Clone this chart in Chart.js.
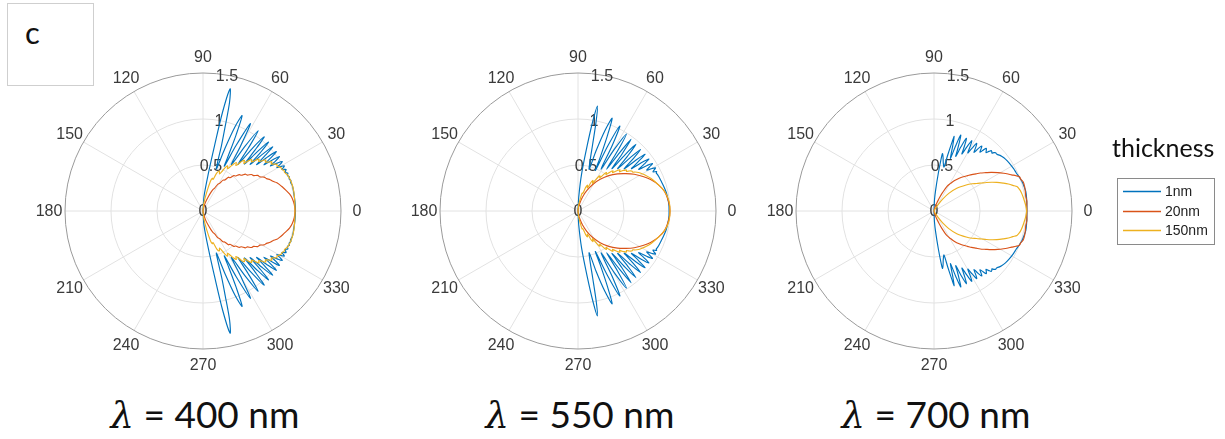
<!DOCTYPE html>
<html><head><meta charset="utf-8">
<script src="https://cdn.jsdelivr.net/npm/chart.js@4.4.1/dist/chart.umd.min.js"></script>
<style>
body{margin:0;width:1225px;height:439px;background:#fff;position:relative;overflow:hidden;font-family:'Liberation Sans',Arial,sans-serif}
.pc{position:absolute;top:31px;width:360px;height:360px}
#cbox{position:absolute;left:7px;top:3px;width:85px;height:81px;border:1px solid #cfcfcf}
#cbox span{position:absolute;left:17px;top:9px;font:31px Lato,sans-serif;color:#111}
.ttl{position:absolute;top:393px;width:320px;text-align:center;font:37px Lato,sans-serif;color:#111;line-height:42px;white-space:nowrap}
.ttl i{font-family:'DejaVu Serif',serif;font-style:italic}
#thk{position:absolute;left:1112px;top:132px;font:25px Lato,sans-serif;color:#111}
#leg{position:absolute;left:1117px;top:178px;width:96px;height:65px;border:1px solid #8a8a8a;background:#fff}
#leg svg{position:absolute;left:0;top:0}
.lt{position:absolute;left:47px;font:14px 'Liberation Sans',Arial,sans-serif;color:#222}
</style></head><body>
<div id="cbox"><span>c</span></div>
<div class="pc" style="left:23px"><canvas id="p400" width="360" height="360"></canvas></div>
<div class="pc" style="left:398px"><canvas id="p550" width="360" height="360"></canvas></div>
<div class="pc" style="left:754px"><canvas id="p700" width="360" height="360"></canvas></div>
<div class="ttl" style="left:45px"><i>λ</i> = 400 nm</div>
<div class="ttl" style="left:420px"><i>λ</i> = 550 nm</div>
<div class="ttl" style="left:776px"><i>λ</i> = 700 nm</div>
<div id="thk">thickness</div>
<div id="leg">
 <svg width="96" height="65">
  <line x1="5" y1="12.5" x2="43" y2="12.5" stroke="#0072BD" stroke-width="1.4"/>
  <line x1="5" y1="32.5" x2="43" y2="32.5" stroke="#D95319" stroke-width="1.4"/>
  <line x1="5" y1="51.5" x2="43" y2="51.5" stroke="#EDB120" stroke-width="1.4"/>
 </svg>
 <span class="lt" style="top:4px">1nm</span>
 <span class="lt" style="top:24px">20nm</span>
 <span class="lt" style="top:43px">150nm</span>
</div>
<script>
// ---- axis ticks ----
const thetaTicks = [0,30,60,90,120,150,180,210,240,270,300,330];
const rTicks = [0,0.5,1,1.5];
const rMax = 1.5;
const seriesNames = ['1nm','20nm','150nm'];
const seriesColors = ['#0072BD','#D95319','#EDB120'];

// ---- λ = 400 nm (upper half, angle in degrees, radius) ----
const th400_1 = [90,86,82,80,78.8,77.5,76.3,75.3,74.3,73.3,72.3,70.7,69.2,67.7,66.5,65.5,64.6,63.2,61.5,60.0,58.5,57.0,55.5,54.2,53.0,51.8,50.5,49.5,48.5,47.5,46.5,45.5,44.6,43.6,42.7,41.8,40.8,39.9,39.0,38.1,37.2,36.3,35.5,34.6,33.7,32.8,32.0,31.2,30.5,29.7,29.0,28.3,27.7,26.5,25.3,24.0,22.8,21.6,20.4,19.2,18.0,16.0,13.0,10.0,6.0,3.0,0];
const r400_1  = [0,0.16,0.40,0.72,1.10,1.36,1.22,0.95,0.75,0.55,0.48,0.72,0.98,1.12,0.90,0.68,0.54,0.80,1.08,0.82,0.59,0.84,1.06,0.84,0.63,0.86,1.045,0.87,0.68,0.88,1.035,0.89,0.72,0.90,1.03,0.91,0.77,0.92,1.025,0.94,0.83,0.94,1.02,0.96,0.88,0.96,1.015,0.98,0.93,0.98,1.012,0.99,0.97,1.01,0.985,1.01,0.995,1.01,1.0,1.012,1.003,1.01,1.008,1.005,1.005,1.005,1.005];
const th400_20 = [90,80,74,70,67,65,63,61,59,57,55,53,51,49,47,45,43,41,39,37,35,33,31,29,27,25,23,21,19,17,14,11,8,4,0];
const r400_20  = [0,0.03,0.10,0.16,0.22,0.26,0.28,0.335,0.35,0.40,0.41,0.46,0.465,0.51,0.52,0.56,0.57,0.61,0.62,0.66,0.67,0.71,0.72,0.76,0.775,0.805,0.825,0.86,0.88,0.90,0.93,0.96,0.98,0.995,1.0];
const th400_150 = [90,84,79,76,74,72.3,70,67.7,66,64.6,63,61.5,60,58.5,57,55.5,54.2,53,51.8,50.5,49.5,48.5,47.5,46.5,45.5,44.6,43.6,42.7,41.8,40.8,39.9,39,38.1,37.2,36.3,35.5,34.6,33.7,32.8,32,31.2,30.5,29,27.7,26.5,25.3,23,18,13,8,0];
const r400_150  = [0,0.08,0.20,0.33,0.37,0.36,0.44,0.47,0.44,0.47,0.53,0.56,0.53,0.56,0.61,0.64,0.61,0.64,0.69,0.71,0.68,0.71,0.75,0.77,0.75,0.77,0.81,0.83,0.81,0.83,0.86,0.88,0.86,0.88,0.90,0.92,0.90,0.92,0.94,0.95,0.94,0.95,0.97,0.97,0.985,0.98,1.0,1.01,1.01,1.005,1.0];

// ---- λ = 550 nm ----
const th550_1 = [90,87,84.5,82,80.6,79.5,78.6,77.6,76.5,75.0,73.3,71.5,69.8,68.7,67.6,66.8,65.4,63.8,62.4,61.2,59.5,57.8,56.6,55.6,54.5,53.5,52.3,51.2,50.1,49.0,47.9,46.8,45.6,44.5,43.4,42.4,41.3,40.3,39.3,38.3,37.3,36.3,35.3,34.4,33.4,32.5,31.6,30.7,29.8,29.0,28.2,27.5,26.6,25.8,25.0,23,20,16,12,8,4,0];
const r550_1  = [0,0.15,0.40,0.72,1.00,1.16,1.00,0.74,0.56,0.47,0.68,0.92,1.075,0.88,0.64,0.48,0.78,1.03,0.80,0.52,0.78,0.99,0.78,0.55,0.78,0.97,0.78,0.59,0.80,0.96,0.80,0.63,0.82,0.955,0.82,0.68,0.84,0.955,0.85,0.74,0.87,0.955,0.88,0.80,0.90,0.96,0.91,0.87,0.93,0.965,0.935,0.92,0.955,0.945,0.95,0.955,0.96,0.97,0.98,0.985,0.99,0.99];
const th550_20 = [90,82,77,72,66.7,61,55,49,43.2,38,33.2,28,23.4,18,12.6,6,0];
const r550_20  = [0,0.04,0.09,0.16,0.24,0.33,0.42,0.51,0.59,0.66,0.73,0.80,0.86,0.92,0.965,0.99,1.0];
const th550_150 = [90,84,79.5,77,74.5,72,69.8,68,66.8,65.3,63.8,62.3,60.8,59.3,57.8,56.7,55.6,54.5,53.5,52.3,51.2,50.1,49,47.9,46.8,45.6,44.5,43.4,42.4,41.3,40.3,39.3,38.3,37.3,36.3,35.3,34.4,32.5,30.7,28,24,18,12,6,0];
const r550_150  = [0,0.06,0.13,0.20,0.20,0.27,0.30,0.27,0.29,0.35,0.37,0.34,0.38,0.43,0.45,0.43,0.46,0.50,0.52,0.50,0.53,0.56,0.58,0.56,0.59,0.62,0.64,0.62,0.65,0.67,0.69,0.68,0.70,0.72,0.73,0.73,0.75,0.78,0.80,0.83,0.87,0.92,0.97,0.995,1.0];

// ---- λ = 700 nm ----
const th700_1 = [90,87.5,85.5,83.5,82.3,81.6,80.6,79,77.2,76.2,75.3,74.9,74.0,73.3,72.6,71.6,70.6,69.6,68.9,68.3,67.2,66.0,65.0,64.4,63.9,62.9,61.8,60.8,59.8,58.8,57.8,56.8,55.7,54.7,53.7,52.9,52.0,51.1,50.2,49.2,48.3,47.4,46.5,45.7,45.0,44.2,43.4,42.5,41.5,40.5,39,36,32.5,28,25,21,18,15,12,8,4,0];
const r700_1  = [0,0.12,0.23,0.41,0.56,0.63,0.60,0.53,0.49,0.63,0.78,0.84,0.74,0.65,0.60,0.75,0.875,0.78,0.70,0.64,0.76,0.865,0.79,0.73,0.69,0.78,0.867,0.81,0.73,0.80,0.87,0.83,0.77,0.83,0.876,0.85,0.81,0.85,0.887,0.87,0.85,0.88,0.905,0.90,0.89,0.91,0.922,0.92,0.925,0.935,0.945,0.96,0.97,0.98,0.985,1.0,1.01,1.015,1.02,1.016,1.012,1.01];
const th700_20 = [90,76,71,68.6,65.5,62.4,59,56,52.5,49.5,46.5,44,41.5,39.4,36.5,34,31,28.5,26.5,25,23.3,21.8,20,18,15,12,9,6,3,0];
const r700_20  = [0,0.04,0.09,0.13,0.21,0.30,0.35,0.40,0.45,0.49,0.53,0.57,0.61,0.65,0.70,0.75,0.81,0.86,0.90,0.93,0.97,1.0,1.005,1.02,1.02,1.015,1.01,1.015,1.01,1.01];
const th700_150 = [90,62,57,54,50,45,39,35.5,32.9,30.5,28.5,26.5,24.5,22,20,18,16.4,14,12,9.1,6,3,0];
const r700_150  = [0,0.03,0.09,0.16,0.25,0.35,0.45,0.51,0.55,0.60,0.65,0.70,0.75,0.81,0.86,0.90,0.94,0.96,0.97,0.98,0.99,1.0,1.007];

function polarPoints(th, r){
  const pts = [];
  for (let i=0;i<th.length;i++){ const a=th[i]*Math.PI/180; pts.push({x:r[i]*Math.cos(a), y:r[i]*Math.sin(a)}); }
  for (let i=th.length-2;i>=0;i--){ const a=-th[i]*Math.PI/180; pts.push({x:r[i]*Math.cos(a), y:r[i]*Math.sin(a)}); }
  return pts;
}

const polarGrid = {
  id:'polarGrid',
  beforeDatasetsDraw(chart){
    const ctx = chart.ctx, xs = chart.scales.x, ys = chart.scales.y;
    const cx = xs.getPixelForValue(0), cy = ys.getPixelForValue(0);
    const px = v => xs.getPixelForValue(v) - cx;
    const R = px(rMax);
    ctx.save();
    ctx.lineWidth = 1;
    ctx.strokeStyle = '#e2e2e2';
    thetaTicks.forEach(t=>{
      const a = t*Math.PI/180;
      ctx.beginPath(); ctx.moveTo(cx,cy); ctx.lineTo(cx+R*Math.cos(a), cy-R*Math.sin(a)); ctx.stroke();
    });
    rTicks.forEach(v=>{
      if (v<=0 || v>=rMax) return;
      ctx.beginPath(); ctx.arc(cx,cy,px(v),0,Math.PI*2); ctx.stroke();
    });
    ctx.strokeStyle = '#9a9a9a';
    ctx.beginPath(); ctx.arc(cx,cy,R,0,Math.PI*2); ctx.stroke();
    ctx.fillStyle = '#3a3a3a';
    ctx.font = '16px "Liberation Sans", Arial, sans-serif';
    ctx.textAlign = 'center'; ctx.textBaseline = 'middle';
    thetaTicks.forEach(t=>{
      const a = t*Math.PI/180, L = R + 16;
      ctx.fillText(String(t), cx+L*Math.cos(a), cy-L*Math.sin(a)+1);
    });
    const ra = 80*Math.PI/180;
    rTicks.forEach(v=>{
      const L = px(v);
      ctx.fillText(String(v), cx+L*Math.cos(ra), cy-L*Math.sin(ra)+1);
    });
    ctx.restore();
  }
};

function makePolar(id, sets){
  const datasets = sets.map((s,k)=>({
    label: seriesNames[k],
    data: polarPoints(s[0], s[1]),
    showLine: true,
    borderColor: seriesColors[k],
    backgroundColor: seriesColors[k],
    borderWidth: 1.15,
    pointRadius: 0,
    tension: 0.3,
    order: 2-k
  }));
  new Chart(document.getElementById(id), {
    type:'scatter',
    data:{datasets},
    options:{
      responsive:false, animation:false,
      layout:{padding:42},
      plugins:{legend:{display:false}, tooltip:{enabled:false}},
      scales:{
        x:{type:'linear', min:-rMax, max:rMax, display:false},
        y:{type:'linear', min:-rMax, max:rMax, display:false}
      }
    },
    plugins:[polarGrid]
  });
}

makePolar('p400', [[th400_1,r400_1],[th400_20,r400_20],[th400_150,r400_150]]);
makePolar('p550', [[th550_1,r550_1],[th550_20,r550_20],[th550_150,r550_150]]);
makePolar('p700', [[th700_1,r700_1],[th700_20,r700_20],[th700_150,r700_150]]);
</script>
</body></html>
